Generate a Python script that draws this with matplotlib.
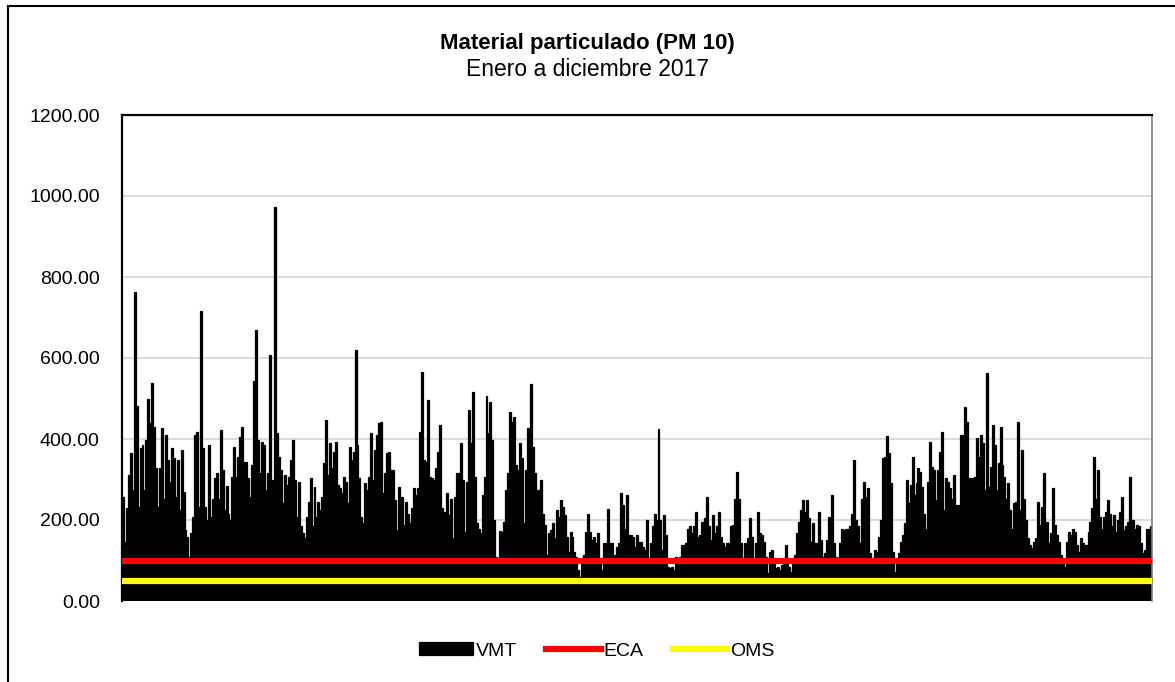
import matplotlib
matplotlib.use("Agg")
import matplotlib.pyplot as plt
from matplotlib.patches import Rectangle

plt.rcParams['font.family'] = ['Liberation Sans', 'DejaVu Sans']

# VMT PM10 values, left to right
vmt = [
    # ene
    258, 146, 229, 311, 365, 274, 764, 481, 233, 377, 385, 274, 397, 500, 439,
    539, 430, 328, 233, 328, 426, 253, 410, 348, 295, 377, 352, 258, 348, 225,
    373, 270, 175, 159, 109, 167, 208, 410, 418, 233, 717, 377, 233, 200, 385,
    208, 253, 303, 317, 253, 422, 323, 225, 284, 216, 200, 307, 381, 307, 356,
    406, 430, 344,
    # feb / mar
    344, 303, 258, 336, 542, 669, 397, 315, 393, 385, 274, 315, 607, 262, 299,
    974, 414, 356, 323, 241, 311, 286, 307, 348, 397, 299, 208, 295, 184, 167,
    155, 208, 245, 303, 184, 282, 208, 245, 225, 258, 340, 447, 311, 389, 328,
    369, 393, 286, 278, 266, 307, 295, 241, 381, 348, 369, 620, 385, 303, 208,
    192, 291, 274, 307, 414, 299, 373, 410,
    # abr / may
    439, 443, 266, 315, 365, 369, 323, 323, 249, 175, 282, 258, 258, 188, 245,
    216, 192, 229, 278, 262, 278, 418, 566, 348, 344, 496, 307, 303, 299, 328,
    369, 434, 229, 196, 220, 266, 212, 253, 155, 258, 315, 315, 389, 299, 171,
    295, 472, 389, 517, 307, 192, 179, 167, 262, 307, 505, 414, 492, 397, 200,
    109, 105, 174, 171, 196, 274, 315, 467, 443,
    # may / jun
    455, 336, 323, 389, 352, 192, 323, 426, 426, 536, 381, 315, 274, 274, 299,
    216, 188, 114, 167, 175, 192, 155, 225, 208, 249, 233, 212, 159, 122, 171,
    159, 122, 109, 77, 60, 97, 114, 171, 215, 171, 151, 159, 142, 167, 105,
    77, 142, 142, 227, 142, 142, 114, 93, 134, 142, 267, 237, 179, 262, 163,
    163, 159, 134, 163, 146, 146, 134,
    # jul / ago
    126, 200, 105, 142, 184, 216, 200, 424, 200, 126, 212, 163, 85, 81, 85,
    77, 109, 97, 109, 138, 138, 142, 179, 184, 167, 184, 220, 159, 163, 196,
    196, 204, 258, 184, 151, 212, 167, 184, 220, 159, 142, 134, 142, 142, 184,
    188, 253, 319, 253, 142, 105, 142, 142, 155, 204, 159, 101, 142, 220, 167,
    163, 146, 109, 68, 122, 126,
    # ago / sep
    93, 81, 85, 77, 89, 93, 138, 105, 85, 72, 105, 114, 167, 196, 225,
    249, 220, 249, 204, 146, 192, 142, 142, 220, 151, 109, 118, 151, 208, 151,
    262, 142, 109, 105, 142, 179, 175, 179, 179, 184, 216, 348, 200, 184, 142,
    253, 295, 258, 278, 118, 105, 105, 126, 122, 159, 200, 352, 356, 407, 365,
    291, 122, 72, 105, 118, 146,
    # oct / nov
    163, 192, 299, 241, 286, 356, 262, 291, 328, 319, 282, 216, 179, 295, 393,
    332, 323, 249, 323, 369, 418, 225, 303, 295, 278, 253, 311, 237, 237, 142,
    410, 410, 480, 443, 303, 303, 303, 307, 402, 356, 410, 389, 274, 562, 282,
    332, 434, 385, 274, 340, 430, 336, 307, 253, 291, 225, 179, 241, 245, 443,
    225, 373, 253, 200, 155, 138,
    # nov / dic
    130, 146, 155, 245, 188, 233, 315, 196, 196, 142, 167, 278, 188, 163, 146,
    114, 93, 85, 146, 171, 163, 179, 171, 138, 122, 155, 142, 138, 138, 171,
    196, 229, 356, 253, 323, 208, 179, 208, 220, 249, 216, 184, 212, 171, 200,
    220, 258, 175, 184, 196, 307, 188, 200, 179, 188, 184, 142, 118, 126, 179,
    179, 184,
]
eca = 100   # limite ECA
oms = 50    # guia OMS
yticks = [0, 200, 400, 600, 800, 1000, 1200]

fig = plt.figure(figsize=(11.75, 6.82), dpi=100)
ax = fig.add_axes([122/1175, 1-601/682, (1152-122)/1175, (601-115)/682])

x = list(range(len(vmt)))
ax.bar(x, vmt, width=1.0, color='black', edgecolor='black', linewidth=0.9,
       label='VMT', zorder=2)
ax.axhline(eca, color='#ff0000', lw=4.5, label='ECA', zorder=3)
ax.axhline(oms, color='#ffff00', lw=4.5, label='OMS', zorder=3)

ax.set_xlim(-0.5, len(vmt) - 0.5)
ax.set_ylim(0, 1200)
ax.set_yticks(yticks)
ax.set_yticklabels(['%.2f' % v for v in yticks])
ax.set_xticks([])
ax.tick_params(axis='y', length=0, pad=16, labelsize=14)
ax.yaxis.grid(True, color='#d9d9d9', lw=1.3)
ax.set_axisbelow(True)
for s in ['top', 'left']:
    ax.spines[s].set_linewidth(1.6)
    ax.spines[s].set_color('black')
ax.spines['right'].set_color('#808080')
ax.spines['right'].set_linewidth(1.2)
ax.spines['bottom'].set_visible(False)

fig.text(0.5, 1-44/682, 'Material particulado (PM 10)', ha='center', va='center',
         fontsize=16, fontweight='bold')
fig.text(0.5, 1-70/682, 'Enero a diciembre 2017', ha='center', va='center',
         fontsize=16.5)

h, l = ax.get_legend_handles_labels()
order = [l.index('VMT'), l.index('ECA'), l.index('OMS')]
fig.legend([h[i] for i in order], [l[i] for i in order], loc='center',
           bbox_to_anchor=(0.5 + 9/1175, 1-651/682), ncol=3, frameon=False,
           fontsize=14, handlelength=2.8, handleheight=0.6, handletextpad=0.15,
           columnspacing=1.5)

# borde exterior del grafico
fig.add_artist(Rectangle((8/1175, -0.05), 1.2, 1-6/682+0.05, transform=fig.transFigure,
                         fill=False, edgecolor='black', lw=1.5))

fig.savefig('out.png', dpi=100)
